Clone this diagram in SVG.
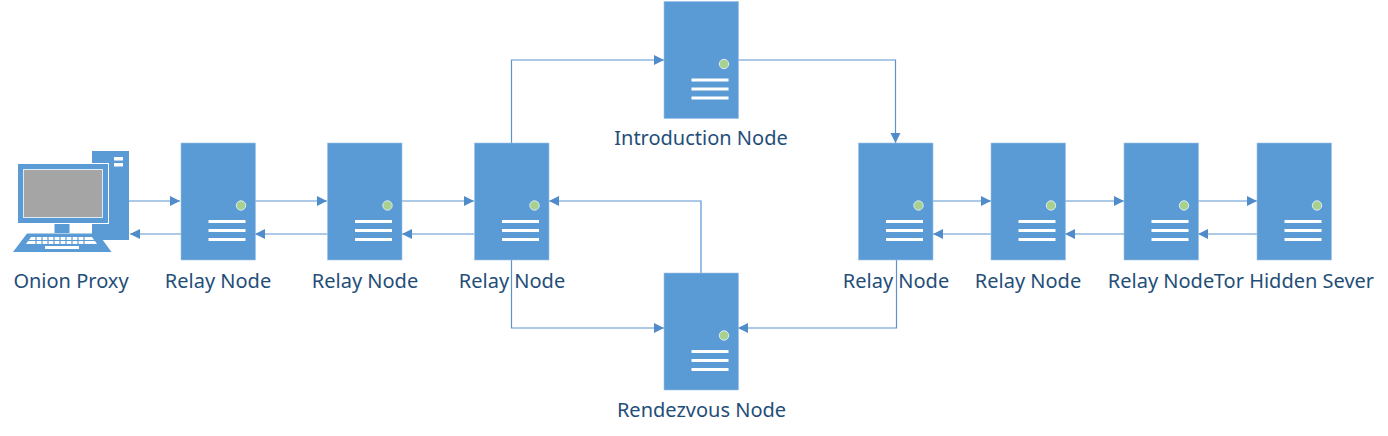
<svg xmlns="http://www.w3.org/2000/svg" xmlns:xlink="http://www.w3.org/1999/xlink" width="1388" height="436" viewBox="0 0 1388 436">
<style>
.t{font-family:"Noto Sans","Open Sans","DejaVu Sans",sans-serif;font-size:20px;fill:#1f4e79;text-anchor:middle}
.c{fill:none;stroke:#5a93cf;stroke-width:1.2}
.b{fill:#5b9bd5}
.w{fill:#fff}
</style>
<defs>
<marker id="a" markerUnits="userSpaceOnUse" markerWidth="11" markerHeight="11" refX="10" refY="5" orient="auto"><path d="M0 0L10 5L0 10Z" fill="#4f8cc9"/></marker>
<g id="srv">
<rect class="b" width="74.500" height="117" stroke="#9dc3e6" stroke-width=".6"/>
<circle cx="60" cy="62.500" r="4.700" fill="#a9d18e" stroke="#deebf7" stroke-width="1"/>
<rect class="w" x="27.500" y="77" width="37" height="3"/>
<rect class="w" x="27.500" y="86" width="37" height="3"/>
<rect class="w" x="27.500" y="95" width="37" height="3"/>
</g>
</defs>
<g id="connectors" class="c">
<path class="c" marker-end="url(#a)" d="M129 201H180"/>
<path class="c" marker-end="url(#a)" d="M181 234H130"/>
<path class="c" marker-end="url(#a)" d="M255 201H327"/>
<path class="c" marker-end="url(#a)" d="M328 234H255"/>
<path class="c" marker-end="url(#a)" d="M402 201H474"/>
<path class="c" marker-end="url(#a)" d="M474 234H402"/>
<path class="c" marker-end="url(#a)" d="M511.500 143V60H664"/>
<path class="c" marker-end="url(#a)" d="M738 60H895.500V143"/>
<path class="c" marker-end="url(#a)" d="M511.500 260V328H664"/>
<path class="c" marker-end="url(#a)" d="M701 273V201H549"/>
<path class="c" marker-end="url(#a)" d="M896.500 260V328H738"/>
<path class="c" marker-end="url(#a)" d="M933 201H991"/>
<path class="c" marker-end="url(#a)" d="M991 234H933"/>
<path class="c" marker-end="url(#a)" d="M1065 201H1124"/>
<path class="c" marker-end="url(#a)" d="M1124 234H1065"/>
<path class="c" marker-end="url(#a)" d="M1198 201H1257"/>
<path class="c" marker-end="url(#a)" d="M1257 234H1198"/>
</g>
<g id="onion-proxy">
<rect class="b" x="92" y="151" width="37" height="89"/>
<rect class="w" x="114" y="157" width="9" height="3.500"/>
<rect class="w" x="114" y="163" width="9" height="3.500"/>
<rect class="b" x="17.500" y="163.500" width="91" height="60" stroke="#fff" stroke-width="1"/>
<rect x="23.500" y="169.500" width="79" height="48" fill="#a5a5a5" stroke="#deebf7" stroke-width="1"/>
<rect class="b" x="54.500" y="224" width="15" height="9"/>
<path class="b" d="M27 233.500H98L111.500 252H13Z"/>
<path class="w" d="M31 237H92L94 240H29ZM28 241H95L97 244H26ZM45 246H79V249H45Z"/>
<path class="b" d="M36 237v7M42 237v7M48 237v7M54 237v7M60 237v7M66 237v7M72 237v7M78 237v7M84 237v7" stroke="#5b9bd5" stroke-width="1.200"/>
<text class="t" x="71" y="288">Onion Proxy</text>
</g>
<g id="relay-1"><use href="#srv" x="181" y="143"/><text class="t" x="218" y="288">Relay Node</text></g>
<g id="relay-2"><use href="#srv" x="327.500" y="143"/><text class="t" x="365" y="288">Relay Node</text></g>
<g id="relay-3"><use href="#srv" x="474.500" y="143"/><text class="t" x="512" y="288">Relay Node</text></g>
<g id="introduction"><use href="#srv" x="664" y="1.500"/><text class="t" x="701" y="145">Introduction Node</text></g>
<g id="rendezvous"><use href="#srv" x="664" y="273"/><text class="t" x="701.500" y="417">Rendezvous Node</text></g>
<g id="relay-4"><use href="#srv" x="858.500" y="143"/><text class="t" x="896" y="288">Relay Node</text></g>
<g id="relay-5"><use href="#srv" x="991" y="143"/><text class="t" x="1028" y="288">Relay Node</text></g>
<g id="relay-6"><use href="#srv" x="1124" y="143"/><text class="t" x="1161" y="288">Relay Node</text></g>
<g id="hidden-server"><use href="#srv" x="1257" y="143"/><text class="t" x="1294" y="288">Tor Hidden Sever</text></g>
</svg>
